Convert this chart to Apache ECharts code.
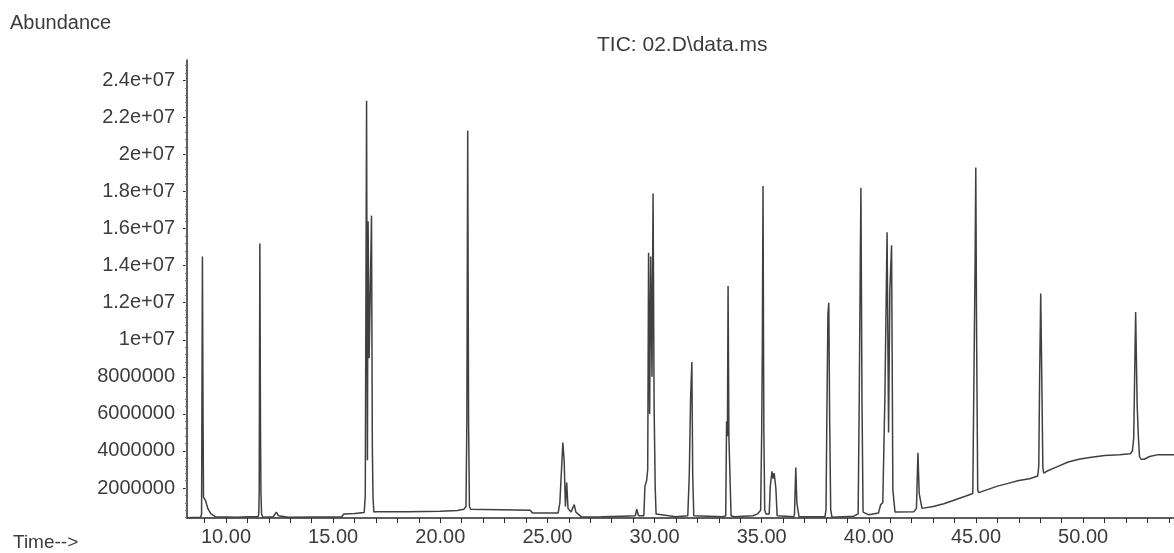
<!DOCTYPE html>
<html>
<head>
<meta charset="utf-8">
<title>TIC: 02.D\data.ms</title>
<script src="https://cdn.jsdelivr.net/npm/echarts@6/dist/echarts.min.js"></script>
<style>
  html, body { margin: 0; padding: 0; background: #fff; }
  #chart { width: 1174px; height: 553px; }
</style>
</head>
<body>
<div id="chart"></div>
<script>
// retention time (min)
const rt = [
  8.18, 8.82, 8.86, 8.90, 8.93, 8.95, 9.00, 9.05, 9.15, 9.30, 9.50,
  10.50, 11.00, 11.50, 11.53, 11.55, 11.58, 11.61, 11.63, 11.66, 11.72,
  12.20, 12.35, 12.45, 12.90, 15.40, 15.50, 16.00, 16.45,
  16.50, 16.56, 16.60, 16.63, 16.68, 16.79, 16.83, 16.86, 16.90,
  17.00, 18.50, 20.00, 20.80, 21.10,
  21.20, 21.24, 21.28, 21.32, 21.36, 21.42,
  24.20, 24.30, 25.50, 25.58, 25.65, 25.72, 25.78, 25.84, 25.90, 25.96,
  26.10, 26.25, 26.33, 26.60, 27.50, 28.50, 29.10, 29.17, 29.25,
  29.50, 29.55, 29.63, 29.68, 29.72, 29.77, 29.82, 29.88, 29.93, 29.98, 30.03, 30.07, 30.15,
  31.00, 31.55, 31.62, 31.68, 31.74, 31.78, 31.83,
  33.20, 33.32, 33.36, 33.40, 33.43, 33.47, 33.53, 33.57, 33.70,
  34.60, 34.80, 34.95, 35.00, 35.03, 35.06, 35.10, 35.14, 35.20,
  35.35, 35.40, 35.48, 35.53, 35.58, 35.66, 35.72,
  36.50, 36.53, 36.59, 36.64, 36.69, 36.74,
  37.95, 38.00, 38.04, 38.09, 38.13, 38.17, 38.22, 38.28,
  39.30, 39.50, 39.55, 39.60, 39.63, 39.68, 39.73,
  40.00, 40.45, 40.55, 40.65, 40.75, 40.85, 40.92, 40.98, 41.06, 41.12, 41.18, 41.22,
  42.10, 42.22, 42.29, 42.35, 42.42, 42.48,
  43.00, 43.50, 44.00, 44.50, 44.85,
  44.92, 44.96, 44.99, 45.03, 45.08, 45.12,
  45.50, 46.00, 46.50, 47.00, 47.50, 47.88,
  47.93, 47.97, 48.02, 48.07, 48.12, 48.16,
  48.30, 48.80, 49.30, 49.80, 50.30, 51.00, 51.70, 52.20,
  52.30, 52.36, 52.45, 52.52, 52.58, 52.63, 52.70, 52.85,
  53.10, 53.50, 54.24
];
// abundance in millions of counts, same order as rt
const abundanceM = [
  0.40, 0.42, 0.6, 14.5, 5.6, 1.5, 1.6, 1.3, 0.9, 0.6, 0.45,
  0.42, 0.45, 0.45, 0.6, 1.8, 15.2, 5.2, 1.8, 0.6, 0.42,
  0.45, 0.7, 0.5, 0.42, 0.45, 0.6, 0.62, 0.68,
  1.6, 22.9, 3.5, 16.4, 9.0, 16.7, 4.2, 1.5, 0.7,
  0.72, 0.72, 0.75, 0.78, 0.85,
  1.0, 5.6, 21.3, 5.6, 1.0, 0.85,
  0.8, 0.65, 0.65, 1.2, 1.2, 4.45, 3.5, 1.0, 2.3, 0.9,
  0.7, 1.1, 0.7, 0.43, 0.45, 0.48, 0.5, 0.85, 0.5,
  0.5, 2.1, 2.4, 3.0, 14.7, 6.0, 14.5, 8.0, 17.9, 6.3, 2.0, 0.6, 0.5,
  0.45, 0.5, 2.7, 6.8, 8.8, 2.7, 0.5,
  0.45, 0.5, 5.6, 4.8, 12.9, 4.7, 4.7, 0.5, 0.45,
  0.5, 0.6, 0.8, 5.1, 9.8, 18.3, 5.1, 0.8, 0.6,
  0.6, 2.1, 2.9, 2.5, 2.8, 2.0, 0.5,
  0.45, 0.6, 3.1, 1.2, 1.1, 0.45,
  0.45, 0.8, 5.8, 11.4, 12.0, 5.8, 0.8, 0.42,
  0.48, 0.6, 6.6, 14.2, 18.2, 6.6, 0.7,
  0.55, 0.65, 1.1, 1.2, 7.0, 15.8, 5.0, 12.7, 15.1, 1.9, 1.8, 0.7,
  0.72, 0.9, 3.9, 1.7, 1.6, 0.9,
  1.0, 1.15, 1.35, 1.55, 1.7,
  1.8, 14.5, 19.3, 9.9, 1.9, 1.75,
  1.9, 2.1, 2.25, 2.4, 2.5, 2.65,
  3.2, 8.0, 12.5, 8.0, 3.1, 2.8,
  2.9, 3.15, 3.4, 3.55, 3.65, 3.75, 3.8, 3.85,
  4.0, 4.7, 11.5, 6.5, 4.7, 3.7, 3.55, 3.55,
  3.7, 3.8, 3.8
];

// axis ticks and labels
const yLabelValues = [2000000, 4000000, 6000000, 8000000, 10000000, 12000000,
  14000000, 16000000, 18000000, 20000000, 22000000, 24000000];
const xLabelValues = [10, 15, 20, 25, 30, 35, 40, 45, 50];
const xTickValues = [9, 10, 11, 12, 13, 14, 15, 16, 17, 18, 19, 20, 21, 22, 23, 24, 25,
  26, 27, 28, 29, 30, 31, 32, 33, 34, 35, 36, 37, 38, 39, 40, 41, 42, 43, 44, 45,
  46, 47, 48, 49, 50, 51, 52, 53, 54];

const yMin = 380000;
const yMax = 25100000;
const xMin = 8.18;
const xMax = 54.24;

let yMinorTicks = [];
for (let v = 400000; v < yMax; v += 400000) {
  yMinorTicks.push(v);
}

let seriesData = [];
for (let i = 0; i < rt.length; i++) {
  seriesData.push([rt[i], Math.round(abundanceM[i] * 1e6)]);
}

const FONT = "'Liberation Sans', Arial, sans-serif";
const TEXT = "#3c3c3c";
const AXIS = "#2a2a2a";

let myChart = echarts.init(document.getElementById("chart"));
let option = {
  animation: false,
  backgroundColor: "#ffffff",
  title: {
    text: "TIC: 02.D\\data.ms",
    left: 597,
    top: 35,
    padding: 0,
    textStyle: {
      fontFamily: FONT,
      fontSize: 21,
      fontWeight: "normal",
      color: TEXT
    }
  },
  graphic: [
    {
      type: "text",
      left: 10,
      top: 13,
      style: { text: "Abundance", font: "20px " + FONT, fill: TEXT }
    },
    {
      type: "text",
      left: 13,
      top: 533,
      style: { text: "Time-->", font: "19px " + FONT, fill: TEXT }
    }
  ],
  grid: {
    left: 187,
    right: 0,
    top: 60,
    bottom: 35,
    containLabel: false,
    outerBoundsMode: "none"
  },
  xAxis: {
    type: "value",
    min: xMin,
    max: xMax,
    splitLine: { show: false },
    axisLine: {
      show: true,
      onZero: false,
      lineStyle: { color: AXIS, width: 1.5 }
    },
    axisTick: {
      show: true,
      length: 5,
      customValues: xTickValues,
      lineStyle: { color: AXIS, width: 1 }
    },
    axisLabel: {
      customValues: xLabelValues,
      formatter: function (v) {
        return v.toFixed(2);
      },
      margin: 9,
      fontFamily: FONT,
      fontSize: 20,
      color: TEXT
    }
  },
  yAxis: [
    {
      type: "value",
      position: "left",
      min: yMin,
      max: yMax,
      splitLine: { show: false },
      axisLine: {
        show: true,
        lineStyle: { color: AXIS, width: 1.5 }
      },
      axisTick: {
        show: true,
        length: 4,
        customValues: yLabelValues,
        lineStyle: { color: AXIS, width: 1 }
      },
      axisLabel: {
        customValues: yLabelValues,
        formatter: function (v) {
          if (v >= 10000000) {
            return Number((v / 10000000).toFixed(1)) + "e+07";
          }
          return String(v);
        },
        margin: 12,
        fontFamily: FONT,
        fontSize: 20,
        color: TEXT
      }
    },
    {
      // minor ticks only
      type: "value",
      position: "left",
      min: yMin,
      max: yMax,
      splitLine: { show: false },
      axisLine: { show: false },
      axisTick: {
        show: true,
        length: 2,
        customValues: yMinorTicks,
        lineStyle: { color: "#777", width: 1 }
      },
      axisLabel: { show: false }
    }
  ],
  series: [
    {
      type: "line",
      yAxisIndex: 0,
      data: seriesData,
      showSymbol: false,
      smooth: false,
      lineStyle: { color: "#404040", width: 1.5 }
    }
  ]
};
myChart.setOption(option, true);
window.addEventListener("resize", () => {
  myChart.resize();
});
</script>
</body>
</html>
